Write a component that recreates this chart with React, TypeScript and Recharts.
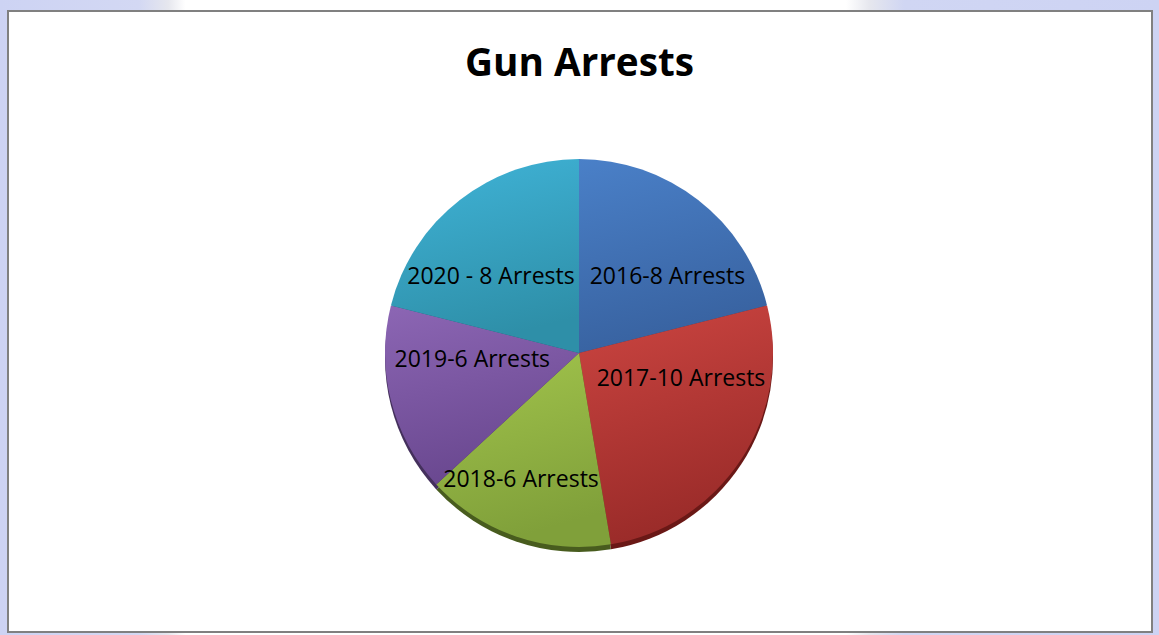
import React from "react";
import { PieChart, Pie, Cell } from "recharts";

const years = ["2016", "2017", "2018", "2019", "2020"];
const arrests = [8, 10, 6, 6, 8];
const labels = ["2016-8 Arrests", "2017-10 Arrests", "2018-6 Arrests", "2019-6 Arrests", "2020 - 8 Arrests"];

const data = years.map((y, i) => ({ name: y, value: arrests[i], label: labels[i] }));

const topColors = ["#4a80c8", "#cc4541", "#a2c44c", "#8c66b4", "#40b4d8"];
const bottomColors = ["#3862a0", "#9a2b29", "#80a03a", "#6a4890", "#2e8fa8"];
const rimColors = ["#24426c", "#6a1816", "#485c1e", "#44305c", "#1c5c6e"];
const labelNudge: [number, number][] = [
  [14.6, 16.9],
  [1.3, -42.1],
  [-18.9, 11.5],
  [9.9, -24.2],
  [-14.1, 16.9],
];

const RAD = Math.PI / 180;

const renderLabel = (p: any) => {
  const r = p.outerRadius * 0.62;
  const n = labelNudge[p.index] || [0, 0];
  const x = p.cx + r * Math.cos(-p.midAngle * RAD) + n[0];
  const y = p.cy + r * Math.sin(-p.midAngle * RAD) + n[1];
  return (
    <text
      x={x}
      y={y}
      textAnchor="middle"
      dominantBaseline="central"
      fill="#000"
      fontFamily="'Open Sans', sans-serif"
      fontSize={23}
    >
      {data[p.index].label}
    </text>
  );
};

export default function App() {
  return (
    <div
      style={{
        position: "absolute",
        left: 0,
        top: 0,
        width: 1159,
        height: 635,
        overflow: "hidden",
        background:
          "linear-gradient(to right, #cdd3f3 0%, #d3d8f3 12%, #e6e7ee 14.5%, #ffffff 16%, #ffffff 73%, #e6e7ee 75%, #d0d6f3 78%, #cdd3f3 100%)",
      }}
    >
      <svg width={0} height={0} style={{ position: "absolute" }}>
        <defs>
          {topColors.map((c, i) => (
            <linearGradient key={i} id={`g${i}`} x1="0" y1="0" x2="0.25" y2="1">
              <stop offset="0%" stopColor={c} />
              <stop offset="100%" stopColor={bottomColors[i]} />
            </linearGradient>
          ))}
        </defs>
      </svg>
      <div
        style={{
          position: "absolute",
          left: 7,
          top: 10,
          width: 1142,
          height: 619,
          border: "2px solid #808080",
          background: "#ffffff",
        }}
      />
      <div style={{ position: "absolute", left: 0, top: 0 }}>
        <PieChart width={1159} height={635} margin={{ top: 0, right: 0, bottom: 0, left: 0 }}>
          <Pie
            data={data}
            dataKey="value"
            cx={579}
            cy={358}
            outerRadius={194}
            startAngle={90}
            endAngle={-270}
            stroke="none"
            isAnimationActive={false}
            labelLine={false}
          >
            {data.map((d, i) => (
              <Cell key={`r${i}`} fill={rimColors[i]} stroke="none" />
            ))}
          </Pie>
          <Pie
            data={data}
            dataKey="value"
            cx={579}
            cy={353}
            outerRadius={194}
            startAngle={90}
            endAngle={-270}
            stroke="none"
            isAnimationActive={false}
            labelLine={false}
            label={renderLabel}
          >
            {data.map((d, i) => (
              <Cell key={`c${i}`} fill={`url(#g${i})`} stroke="none" />
            ))}
          </Pie>
        </PieChart>
      </div>
      <svg width={1159} height={100} style={{ position: "absolute", left: 0, top: 0 }}>
        <text
          x={579.5}
          y={76}
          textAnchor="middle"
          fontFamily="'Open Sans', sans-serif"
          fontWeight={700}
          fontSize={40}
          textLength={229}
          lengthAdjust="spacingAndGlyphs"
          fill="#000"
        >
          Gun Arrests
        </text>
      </svg>
    </div>
  );
}
